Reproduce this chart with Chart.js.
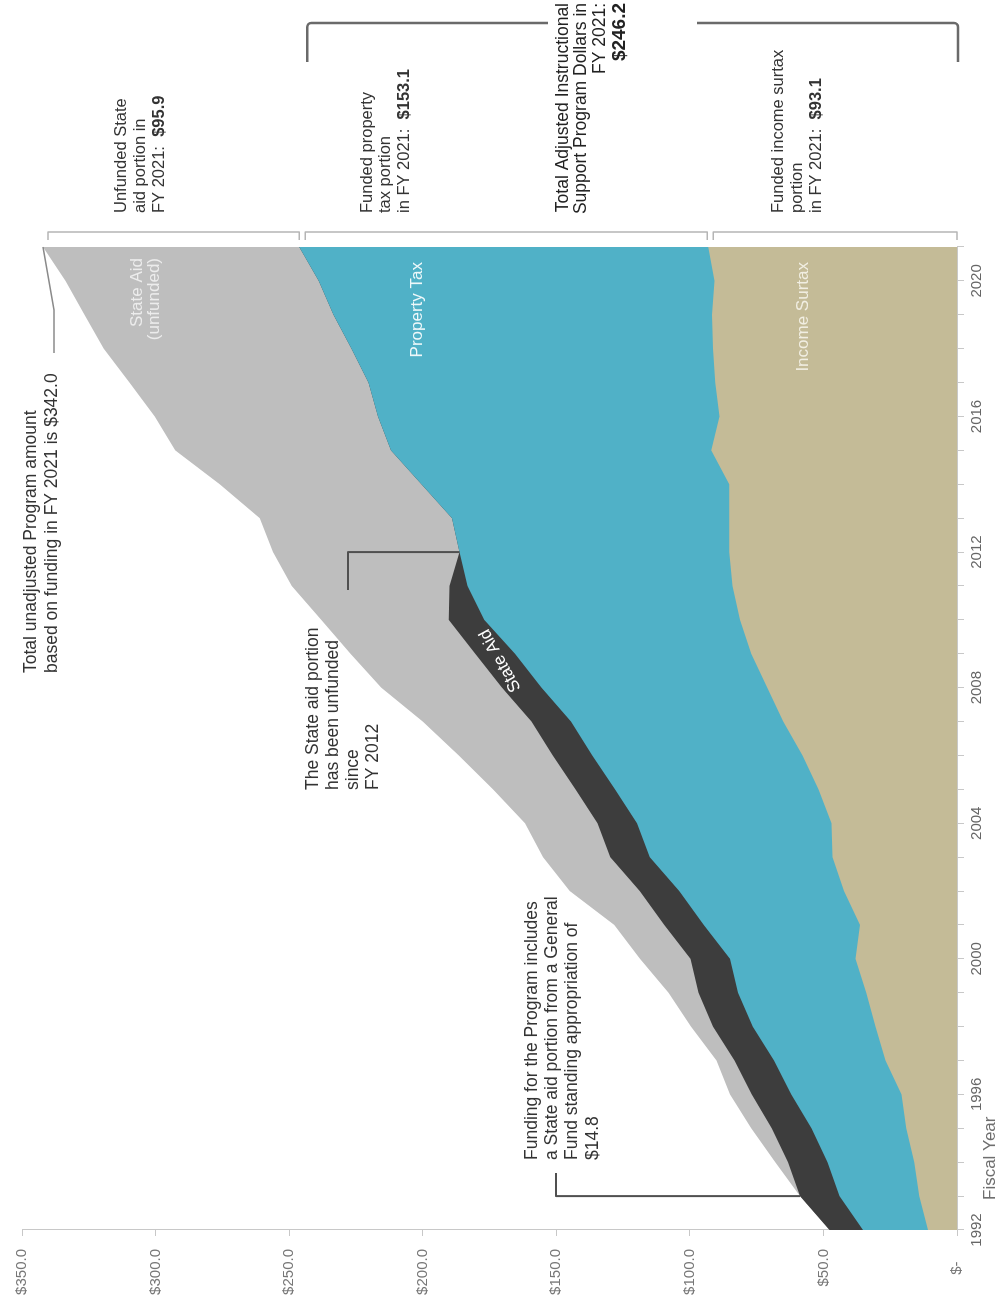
<!DOCTYPE html>
<html>
<head>
<meta charset="utf-8">
<script src="https://cdn.jsdelivr.net/npm/chart.js@4.4.1/dist/chart.umd.min.js"></script>
<style>
  html, body { margin: 0; padding: 0; overflow: hidden; background: #fff; }
  /* the chart is drawn lying on its side, then turned a quarter left */
  #wrap {
    position: absolute; left: 0; top: 0;
    width: 1306px; height: 1003px;
    transform-origin: 0 0;
    transform: translate(0, 1306px) rotate(-90deg);
  }
</style>
</head>
<body>
<div id="wrap"><canvas id="isp" width="1306" height="1003"></canvas></div>
<script>
// Fiscal years
const years = ['1992', '1993', '1994', '1995', '1996', '1997', '1998', '1999', '2000', '2001',
  '2002', '2003', '2004', '2005', '2006', '2007', '2008', '2009', '2010', '2011',
  '2012', '2013', '2014', '2015', '2016', '2017', '2018', '2019', '2020', '2021'];

// Dollars (millions)
const incomeSurtax = [10.9, 14.1, 16.0, 19.0, 20.8, 26.8, 30.5, 34.0, 38.0, 36.3,
  42.3, 46.6, 47.0, 51.8, 57.8, 65.0, 71.0, 77.0, 81.2, 84.0,
  85.3, 85.3, 85.3, 92.0, 88.9, 90.5, 91.3, 91.7, 90.8, 93.1];
const propertyTax = [24.3, 29.9, 32.5, 35.5, 41.2, 41.7, 46.0, 48.0, 47.0, 58.5,
  61.7, 68.4, 72.8, 76.2, 78.7, 79.5, 84.5, 88.5, 95.8, 99.2,
  100.9, 103.7, 115.2, 119.9, 127.8, 129.8, 135.4, 141.7, 148.1, 153.1];
const stateAid = [12.5, 14.8, 14.8, 14.8, 14.8, 14.8, 14.8, 14.8, 14.8, 14.8,
  14.8, 14.8, 14.8, 14.8, 14.8, 14.8, 14.8, 14.8, 13.3, 6.8,
  0, 0, 0, 0, 0, 0, 0, 0, 0, 0];
const stateAidUnfunded = [0, 0, 4.7, 7.7, 8.2, 6.7, 8.3, 11.2, 18.9, 18.7,
  26.2, 25.2, 27.1, 30.9, 35.2, 40.7, 45.2, 46.7, 47.7, 59.0,
  69.8, 72.0, 75.5, 80.7, 83.6, 89.5, 92.7, 93.2, 94.8, 95.9];

const valueTicks = [0, 50, 100, 150, 200, 250, 300, 350];

const FONT = '"Liberation Sans", Arial, Helvetica, sans-serif';
Chart.defaults.font.family = FONT;

// stacked tops
function topOf(i, layer) {
  const parts = [incomeSurtax[i], propertyTax[i], stateAid[i], stateAidUnfunded[i]];
  let s = 0;
  for (let k = 0; k <= layer; k++) s += parts[k];
  return s;
}

function writeLines(ctx, list, u, v, lh) {
  list.forEach((t, i) => ctx.fillText(t, u, v + i * lh));
}

// normal text followed by a bold part on the same line
function writeMixed(ctx, normal, bold, u, v, size) {
  ctx.font = size + 'px ' + FONT;
  ctx.fillText(normal, u, v);
  const w = ctx.measureText(normal).width;
  ctx.font = 'bold ' + size + 'px ' + FONT;
  ctx.fillText(bold, u + w, v);
}

const notes = {
  id: 'notes',
  afterDraw(chart) {
    const ctx = chart.ctx;
    const x = chart.scales.x;
    const y = chart.scales.y;
    const last = years.length - 1;
    ctx.save();
    ctx.textBaseline = 'middle';

    // labels inside the areas
    ctx.textAlign = 'right';
    ctx.font = '17px ' + FONT;
    ctx.fillStyle = '#ececec';
    writeLines(ctx, ['State Aid', '(unfunded)'], 1048, 137, 17);
    ctx.fillStyle = '#eef8fa';
    ctx.fillText('Property Tax', 1044, 417);
    ctx.fillStyle = '#f1eee2';
    ctx.fillText('Income Surtax', 1044, 803);

    // State Aid along the dark band
    const i0 = 16, f = 0.8;
    const bu = x.getPixelForValue(i0) + f * (x.getPixelForValue(i0 + 1) - x.getPixelForValue(i0));
    const mid = k => (topOf(k, 1) + topOf(k, 2)) / 2;
    const bv = y.getPixelForValue(mid(i0) + f * (mid(i0 + 1) - mid(i0)));
    ctx.save();
    ctx.translate(bu, bv);
    ctx.rotate(-0.5);
    ctx.textAlign = 'center';
    ctx.fillStyle = '#ffffff';
    ctx.fillText('State Aid', 0, 0);
    ctx.restore();

    // axis title
    ctx.textAlign = 'left';
    ctx.fillStyle = '#6e6e6e';
    ctx.font = '17px ' + FONT;
    ctx.fillText('Fiscal Year', 106, 990);

    // left annotations
    ctx.fillStyle = '#333';
    ctx.font = '17.5px ' + FONT;
    writeLines(ctx, ['Total unadjusted Program amount',
      'based on funding in FY 2021 is $342.0'], 633, 31, 21);
    writeLines(ctx, ['The State aid portion', 'has been unfunded', 'since', 'FY 2012'], 516, 313, 20);
    writeLines(ctx, ['Funding for the Program includes', 'a State aid portion from a General',
      'Fund standing appropriation of', '$14.8'], 146, 532, 20.3);

    // connector lines
    ctx.lineJoin = 'round';
    ctx.strokeStyle = '#8a8a8a';
    ctx.lineWidth = 1.5;
    ctx.beginPath();
    ctx.moveTo(953, 54);
    ctx.lineTo(996, 54);
    ctx.lineTo(x.getPixelForValue(last), y.getPixelForValue(topOf(last, 3)));
    ctx.stroke();

    ctx.strokeStyle = '#505050';
    ctx.lineWidth = 2;
    const u12 = x.getPixelForValue(20);
    ctx.beginPath();
    ctx.moveTo(716, 348);
    ctx.lineTo(u12, 348);
    ctx.lineTo(u12, y.getPixelForValue(topOf(20, 2)));
    ctx.stroke();

    const u93 = x.getPixelForValue(1);
    ctx.beginPath();
    ctx.moveTo(133, 556);
    ctx.lineTo(u93, 556);
    ctx.lineTo(u93, y.getPixelForValue(topOf(1, 3)));
    ctx.stroke();

    // small brackets over FY 2021 pieces
    const vTotal = y.getPixelForValue(topOf(last, 3));
    const vFunded = y.getPixelForValue(topOf(last, 1));
    const vSurtax = y.getPixelForValue(topOf(last, 0));
    const vZero = y.getPixelForValue(0);
    ctx.strokeStyle = '#b5b5b5';
    ctx.lineWidth = 1.5;
    [[vTotal + 5, vFunded], [vFunded + 6, vSurtax - 1], [vSurtax + 5, vZero]].forEach(([a, b]) => {
      ctx.beginPath();
      ctx.moveTo(1066, a);
      ctx.lineTo(1074, a);
      ctx.lineTo(1074, b);
      ctx.lineTo(1066, b);
      ctx.stroke();
    });

    // big bracket over funded total
    ctx.strokeStyle = '#6a6a6a';
    ctx.lineWidth = 2.5;
    ctx.beginPath();
    ctx.moveTo(1244, vFunded + 8);
    ctx.arcTo(1283, vFunded + 8, 1283, 548, 4);
    ctx.lineTo(1283, 548);
    ctx.moveTo(1283, 697);
    ctx.arcTo(1283, vZero + 1, 1244, vZero + 1, 4);
    ctx.lineTo(1244, vZero + 1);
    ctx.stroke();

    // texts on top of the brackets
    ctx.fillStyle = '#333';
    ctx.textAlign = 'left';
    ctx.font = '16.5px ' + FONT;
    writeLines(ctx, ['Unfunded State', 'aid portion in'], 1093, 121, 19);
    writeMixed(ctx, 'FY 2021:  ', '$95.9', 1093, 159, 16.5);
    ctx.font = '16.5px ' + FONT;
    writeLines(ctx, ['Funded property', 'tax portion'], 1093, 367, 18.5);
    writeMixed(ctx, 'in FY 2021:  ', '$153.1', 1093, 404, 16.5);
    ctx.font = '16.5px ' + FONT;
    writeLines(ctx, ['Funded income surtax', 'portion'], 1093, 778, 19);
    writeMixed(ctx, 'in FY 2021:  ', '$93.1', 1093, 816, 16.5);

    ctx.textAlign = 'right';
    ctx.fillStyle = '#222';
    ctx.font = '17.5px ' + FONT;
    writeLines(ctx, ['Total Adjusted Instructional', 'Support Program Dollars in', 'FY 2021:'], 1303, 563, 18.5);
    ctx.font = 'bold 19px ' + FONT;
    ctx.fillText('$246.2', 1303, 620);

    ctx.restore();
  }
};

const ctx = document.getElementById('isp').getContext('2d');

new Chart(ctx, {
  type: 'line',
  data: {
    labels: years,
    datasets: [
      { label: 'Income Surtax', data: incomeSurtax, backgroundColor: '#c4bb97' },
      { label: 'Property Tax', data: propertyTax, backgroundColor: '#50b1c7' },
      { label: 'State Aid', data: stateAid, backgroundColor: '#3d3d3d' },
      { label: 'State Aid (unfunded)', data: stateAidUnfunded, backgroundColor: '#bebebe' }
    ].map(d => Object.assign(d, {
      fill: 'origin',
      borderWidth: 0,
      borderColor: d.backgroundColor,
      pointRadius: 0,
      tension: 0
    }))
  },
  options: {
    responsive: false,
    animation: false,
    layout: { padding: { top: 22, right: 247, bottom: 0, left: 0 } },
    plugins: {
      legend: { display: false },
      tooltip: { enabled: false }
    },
    scales: {
      x: {
        offset: false,
        afterFit: s => { s.height = 46; },
        grid: { drawOnChartArea: false, tickLength: 7, color: '#c8c8c8' },
        border: { color: '#c8c8c8' },
        ticks: {
          autoSkip: false,
          maxRotation: 0,
          padding: 4,
          color: '#666',
          font: { size: 15 },
          callback: (v, i) => (i % 4 === 0 ? years[i] : '')
        }
      },
      y: {
        stacked: true,
        min: 0,
        max: 350,
        afterFit: s => { s.width = 76; },
        afterBuildTicks: s => { s.ticks = valueTicks.map(v => ({ value: v })); },
        grid: { drawOnChartArea: false, tickLength: 6, color: '#c8c8c8' },
        border: { color: '#c8c8c8' },
        ticks: {
          padding: 13,
          color: '#777',
          font: { size: 15 },
          callback: v => (v === 0 ? '$-   ' : '$' + v.toFixed(1))
        }
      }
    }
  },
  plugins: [notes]
});
</script>
</body>
</html>
